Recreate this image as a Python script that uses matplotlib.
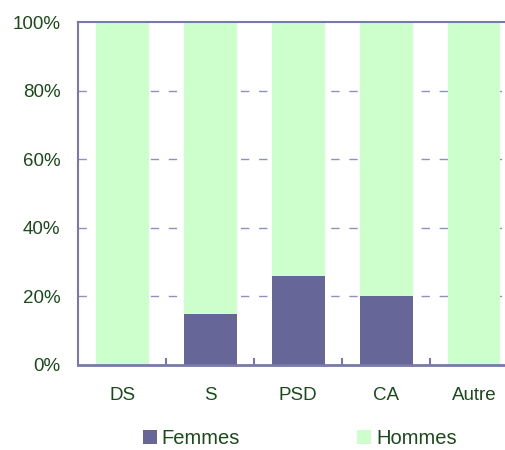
import numpy as np
import matplotlib
matplotlib.use("Agg")
import matplotlib.pyplot as plt
from matplotlib.ticker import PercentFormatter, FixedLocator

plt.rcParams['font.family'] = ['Liberation Sans', 'DejaVu Sans']

categories = ["DS", "S", "PSD", "CA", "Autre"]
femmes = [0, 15, 26, 20, 0]
hommes = [100, 85, 74, 80, 100]

txt = '#1b4a1b'
axc = '#7878aa'
col_f = '#666699'
col_h = '#ccffcc'

fig = plt.figure(figsize=(5.06, 4.5), dpi=100)
ax = fig.add_axes([0.1551, 0.1889, 0.8686, 0.7622])

x = np.arange(len(categories))
ax.bar(x, femmes, width=0.6, color=col_f, label='Femmes', zorder=2)
ax.bar(x, hommes, width=0.6, bottom=femmes, color=col_h, label='Hommes', zorder=2)

ax.set_xlim(-0.5, 4.5)
ax.set_ylim(0, 100)
ax.set_yticks([0, 20, 40, 60, 80, 100])
ax.yaxis.set_major_formatter(PercentFormatter(decimals=0))
ax.set_xticks(x)
ax.set_xticklabels(categories)
ax.xaxis.set_minor_locator(FixedLocator([0.5, 1.5, 2.5, 3.5]))

ax.tick_params(axis='y', length=0, pad=13, labelsize=13.5, labelcolor=txt)
ax.tick_params(axis='x', which='major', length=0, pad=16, labelsize=13.5, labelcolor=txt)
ax.tick_params(axis='x', which='minor', direction='in', length=5, width=1.5, color=axc)

for yv in [20, 40, 60, 80]:
    ax.axhline(yv, color='#9090c0', lw=1, ls=(0, (6, 7)), zorder=1)

ax.spines['left'].set_color(axc)
ax.spines['left'].set_linewidth(1.5)
ax.spines['bottom'].set_color(axc)
ax.spines['bottom'].set_linewidth(2)
ax.spines['top'].set_color(axc)
ax.spines['top'].set_linewidth(1.5)
ax.spines['right'].set_visible(False)

fig.legend(loc='center', bbox_to_anchor=(0.592, 0.025), ncol=2, frameon=False,
           fontsize=14.5, labelcolor=txt, handlelength=0.7, handleheight=0.7,
           handletextpad=0.25, columnspacing=5.8, borderpad=0.1)

fig.savefig("out.png", dpi=100)
